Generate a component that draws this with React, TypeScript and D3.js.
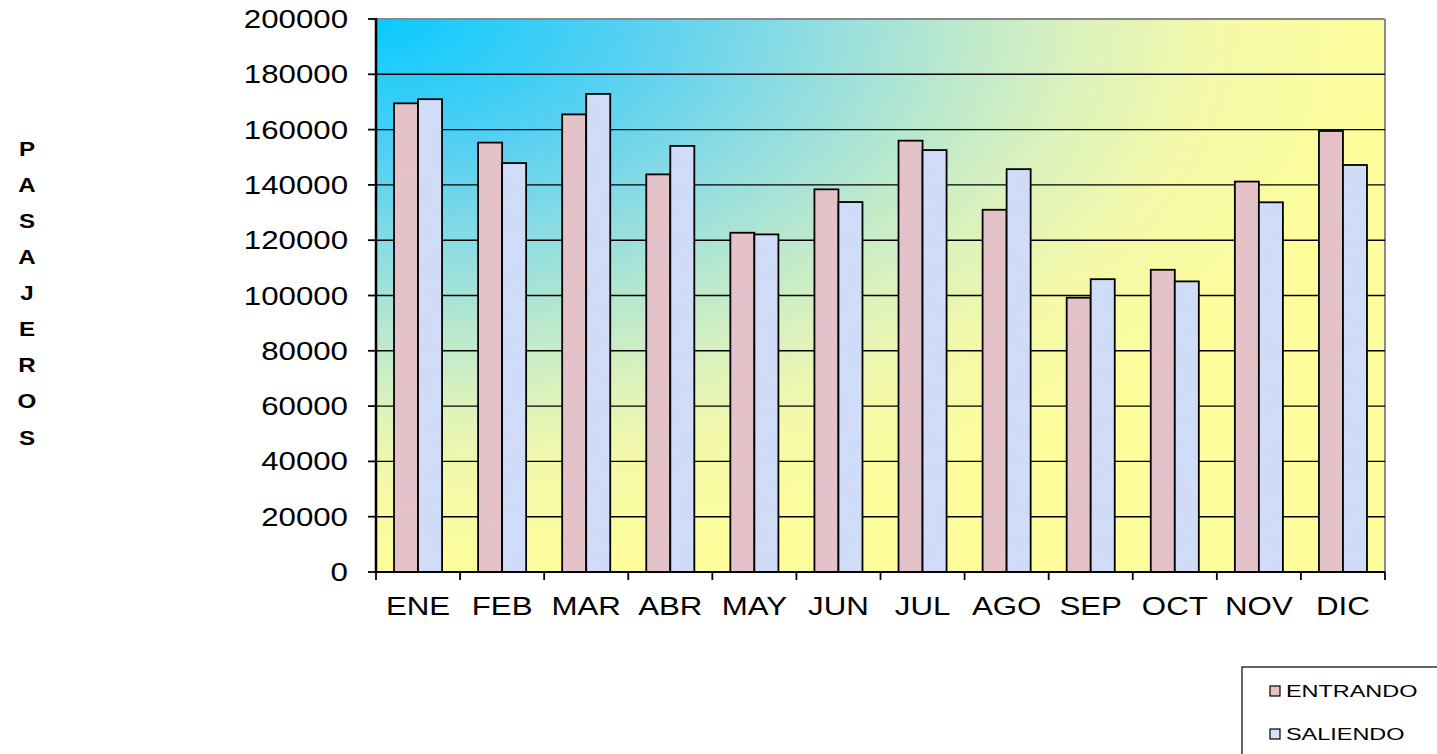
import React from "react";
import * as d3 from "d3";

const months = ["ENE", "FEB", "MAR", "ABR", "MAY", "JUN", "JUL", "AGO", "SEP", "OCT", "NOV", "DIC"];
const entrando = [169500, 155300, 165500, 143800, 122700, 138400, 156000, 131000, 99200, 109300, 141200, 159500];
const saliendo = [171000, 147900, 172900, 154100, 122100, 133800, 152600, 145700, 105900, 105100, 133700, 147200];
const seriesNames = ["ENTRANDO", "SALIENDO"];
const seriesColors = ["#e9c2c4", "#d3e0fa"];
const yTicks = [0, 20000, 40000, 60000, 80000, 100000, 120000, 140000, 160000, 180000, 200000];
const axisTitle = "PASAJEROS";

export default function App() {
  const W = 1437, H = 754;
  const x0 = 376, x1 = 1385, y0 = 19, y1 = 572;
  const x = d3.scaleBand<string>().domain(months).range([x0, x1]).padding(0);
  const inner = d3.scaleBand<string>().domain(seriesNames).range([0, x.bandwidth()]).paddingInner(0).paddingOuter(0.75);
  const y = d3.scaleLinear().domain([0, 200000]).range([y1, y0]);
  const data = [entrando, saliendo];
  const letters = axisTitle.split("");
  const letterY = d3.scaleLinear().domain([0, letters.length - 1]).range([148, 437]);

  return (
    <svg width={W} height={H} style={{ position: "absolute", left: 0, top: 0 }} fontFamily="Arial, 'Liberation Sans', sans-serif">
      <defs>
        <radialGradient id="bg" cx="0" cy="0" r="1" fx="0" fy="0" gradientUnits="objectBoundingBox">
          <stop offset="0" stopColor="#08caff" />
          <stop offset="0.25" stopColor="#55d0f2" />
          <stop offset="0.42" stopColor="#8cdce3" />
          <stop offset="0.56" stopColor="#b6e7d0" />
          <stop offset="0.7" stopColor="#dcf2bc" />
          <stop offset="0.84" stopColor="#f5f9a8" />
          <stop offset="1" stopColor="#fdfd9c" />
        </radialGradient>
        <filter id="tex" x="0" y="0" width="1" height="1">
          <feTurbulence type="fractalNoise" baseFrequency="0.06" numOctaves="2" seed="3" result="n" />
          <feColorMatrix in="n" type="matrix" values="0 0 0 0 0.5  0 0 0 0 0.55  0 0 0 0 0.8  0 0 0 0.25 0" result="c" />
          <feComposite in="c" in2="SourceGraphic" operator="in" result="ci" />
          <feMerge>
            <feMergeNode in="SourceGraphic" />
            <feMergeNode in="ci" />
          </feMerge>
        </filter>
      </defs>

      <rect x={x0} y={y0} width={x1 - x0} height={y1 - y0} fill="url(#bg)" />
      <line x1={x0} x2={x1} y1={y0} y2={y0} stroke="#8a8a8a" strokeWidth={2} />
      <line x1={x1} x2={x1} y1={y0} y2={y1} stroke="#8a8a8a" strokeWidth={2} />

      {yTicks.filter((t) => t > 0 && t < 200000).map((t) => (
        <line key={"g" + t} x1={x0} x2={x1} y1={y(t)} y2={y(t)} stroke="#000" strokeWidth={1.4} />
      ))}

      {months.map((m, i) =>
        data.map((s, j) => {
          const bx = (x(m) as number) + (inner(seriesNames[j]) as number);
          const by = y(s[i]);
          return (
            <g key={m + j}>
              <rect x={bx} y={by} width={inner.bandwidth()} height={y1 - by} fill={seriesColors[j]} filter="url(#tex)" />
              <rect x={bx} y={by} width={inner.bandwidth()} height={y1 - by} fill="none" stroke="#000" strokeWidth={1.8} />
            </g>
          );
        })
      )}

      {/* axes */}
      <line x1={x0} x2={x0} y1={y0 - 1} y2={y1 + 1} stroke="#000" strokeWidth={2.5} />
      <line x1={x0} x2={x1} y1={y1} y2={y1} stroke="#000" strokeWidth={2.2} />
      {yTicks.map((t) => (
        <g key={"y" + t}>
          <line x1={x0 - 8} x2={x0} y1={y(t)} y2={y(t)} stroke="#000" strokeWidth={1.8} />
          <text transform={`translate(${348},${y(t) + 9}) scale(1.25,1)`} textAnchor="end" fontSize={25} fill="#000">
            {t}
          </text>
        </g>
      ))}
      {[...months.map((m) => x(m) as number), x1].map((px, i) => (
        <line key={"xt" + i} x1={px} x2={px} y1={y1} y2={y1 + 8} stroke="#000" strokeWidth={1.8} />
      ))}
      {months.map((m) => (
        <text key={"xl" + m} transform={`translate(${(x(m) as number) + x.bandwidth() / 2},${615}) scale(1.25,1)`} textAnchor="middle" fontSize={25} fill="#000">
          {m}
        </text>
      ))}

      {letters.map((c, i) => (
        <text key={"t" + i} transform={`translate(27,${letterY(i) + 7.5}) scale(1.15,1)`} textAnchor="middle" fontSize={21} fontWeight="bold" fill="#000">
          {c}
        </text>
      ))}

      {/* legend */}
      <rect x={1242} y={667} width={220} height={120} fill="#fff" stroke="#000" strokeWidth={1.2} />
      {seriesNames.map((n, j) => (
        <g key={"lg" + n}>
          <rect x={1270} y={686 + j * 43} width={10} height={10} fill={seriesColors[j]} stroke="#000" strokeWidth={1.2} />
          <text transform={`translate(1286,${697 + j * 43}) scale(1.42,1)`} fontSize={16.5} fill="#000">
            {n}
          </text>
        </g>
      ))}
    </svg>
  );
}
